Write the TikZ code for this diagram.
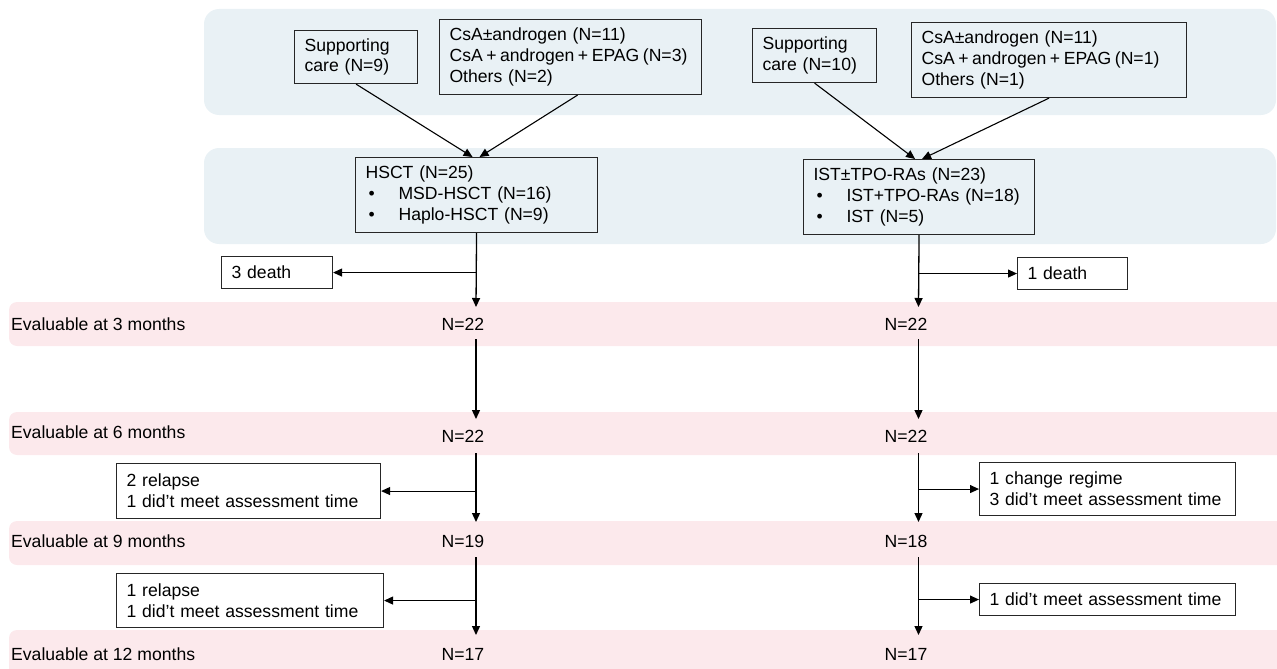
\documentclass[tikz,border=0pt]{standalone}
\usepackage{fontspec}
\setmainfont{Liberation Sans}
\usetikzlibrary{arrows.meta}
\definecolor{bandblue}{HTML}{E9F1F5}
\definecolor{bandpink}{HTML}{FCE9EC}
\definecolor{edgecol}{HTML}{262626}
\hfuzz=20pt
\begin{document}
\begin{tikzpicture}[x=1pt,y=-1pt,
  box/.style={draw=edgecol, line width=1.1pt, anchor=north west, align=left,
    inner xsep=10pt, inner ysep=0pt, font=\fontsize{17.6}{20.7}\selectfont},
  lbl/.style={inner sep=0pt, font=\fontsize{17.6}{20.7}\selectfont},
  arr/.style={draw=black, line width=1.3pt, -{Triangle[length=9pt,width=8pt]}},
  link/.style={draw=black, line width=1.1pt, -{Triangle[length=9pt,width=8pt]}}]
\useasboundingbox (0,0) rectangle (1277,669);
% background bands
\fill[bandblue, rounded corners=15pt] (204,9) rectangle (1276,115);
\fill[bandblue, rounded corners=15pt] (204,148) rectangle (1276,244);
\fill[bandpink, rounded corners=8pt] (9,302) rectangle (1295,346);
\fill[bandpink, rounded corners=8pt] (9,412) rectangle (1295,455);
\fill[bandpink, rounded corners=8pt] (9,521) rectangle (1295,565);
\fill[bandpink, rounded corners=8pt] (9,630) rectangle (1295,685);
\newcommand{\blt}{\makebox[33pt][l]{\hspace{3pt}\textbullet}}
\newcommand{\tightline}[1]{\mbox{\spaceskip=0.2em\relax #1}}
% top boxes
\node[box, text width=103pt, minimum height=53pt] (lsup) at (294,30) {Supporting\\care (N=9)};
\node[box, text width=242pt, minimum height=75pt] (lcsa) at (439,19) {CsA±androgen (N=11)\\\tightline{CsA + androgen + EPAG (N=3)}\\Others (N=2)};
\node[box, text width=104pt, minimum height=54pt] (rsup) at (752,28) {Supporting\\care (N=10)};
\node[box, text width=255pt, minimum height=75pt] (rcsa) at (911,22) {CsA±androgen (N=11)\\\tightline{CsA + androgen + EPAG (N=1)}\\Others (N=1)};
% treatment boxes
\node[box, text width=222pt, minimum height=75pt] (hsct) at (355,157) {HSCT (N=25)\\\blt MSD-HSCT (N=16)\\\blt Haplo-HSCT (N=9)};
\node[box, text width=211pt, minimum height=75pt] (ist) at (803,159) {IST±TPO-RAs (N=23)\\\blt IST+TPO-RAs (N=18)\\\blt IST (N=5)};
% side boxes
\node[box, text width=91pt, minimum height=32pt] (d3) at (221,256) {3 death};
\node[box, text width=90pt, minimum height=32pt] (d1) at (1017,257) {1 death};
\node[box, text width=244pt, minimum height=55pt] (rel2) at (116,463) {2 relapse\\1 did’t meet assessment time};
\node[box, text width=247pt, minimum height=54pt] (rel1) at (116,573) {1 relapse\\1 did’t meet assessment time};
\node[box, text width=236pt, minimum height=53pt] (chg) at (979,462) {1 change regime\\3 did’t meet assessment time};
\node[box, text width=236pt, minimum height=32pt] (mt1) at (979,583) {1 did’t meet assessment time};
% band labels
\node[lbl, anchor=west] (e3) at (11,324) {Evaluable at 3 months};
\node[lbl, anchor=west] (e6) at (11,432) {Evaluable at 6 months};
\node[lbl, anchor=west] (e9) at (11,541) {Evaluable at 9 months};
\node[lbl, anchor=west] (e12) at (11,654) {Evaluable at 12 months};
\node[lbl] (n3l) at (463,324) {N=22};
\node[lbl] (n6l) at (463,436) {N=22};
\node[lbl] (n9l) at (463,541) {N=19};
\node[lbl] (n12l) at (463,654) {N=17};
\node[lbl] (n3r) at (906,324) {N=22};
\node[lbl] (n6r) at (906,436) {N=22};
\node[lbl] (n9r) at (906,541) {N=18};
\node[lbl] (n12r) at (906,654) {N=17};
% arrows into treatment boxes
\draw[link] (lsup.south) -- ([xshift=-4pt]hsct.north);
\draw[link] ([xshift=7pt]lcsa.south) -- ([xshift=3pt]hsct.north);
\draw[link] (rsup.south) -- ([xshift=-4pt]ist.north);
\draw[link] (rcsa.south) -- ([xshift=3pt]ist.north);
% left chain
\coordinate (L1) at (476,307);
\coordinate (L2a) at (476,339);
\coordinate (L2b) at (476,419);
\coordinate (L3a) at (476,453);
\coordinate (L3b) at (476,522);
\coordinate (L4a) at (476,557);
\coordinate (L4b) at (476,635);
\draw[arr] (hsct.south) -- (L1);
\draw[link] (hsct.south |- d3.east) -- (d3.east);
\draw[arr] (L2a) -- (L2b);
\draw[arr] (L3a) -- (L3b);
\draw[link] (L3a |- rel2.east) -- (rel2.east);
\draw[arr] (L4a) -- (L4b);
\draw[link] (L4a |- rel1.east) -- (rel1.east);
% right chain
\coordinate (R1) at (918.5,307);
\coordinate (R2a) at (918.5,339);
\coordinate (R2b) at (918.5,419);
\coordinate (R3a) at (918.5,453);
\coordinate (R3b) at (918.5,522);
\coordinate (R4a) at (918.5,557);
\coordinate (R4b) at (918.5,635);
\draw[arr] (ist.south) -- (R1);
\draw[link] (ist.south |- d1.west) -- (d1.west);
\draw[arr] (R2a) -- (R2b);
\draw[arr] (R3a) -- (R3b);
\draw[link] (R3a |- chg.west) -- (chg.west);
\draw[arr] (R4a) -- (R4b);
\draw[link] (R4a |- mt1.west) -- (mt1.west);
\end{tikzpicture}
\end{document}
